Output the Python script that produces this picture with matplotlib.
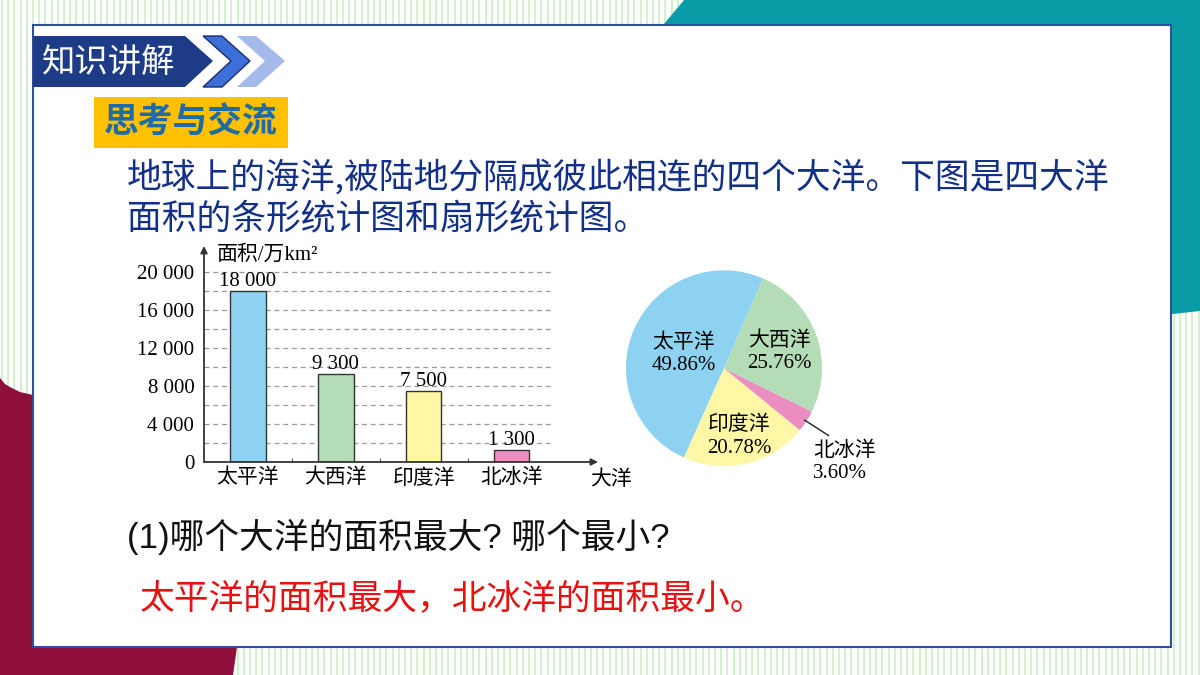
import numpy as np
import matplotlib.pyplot as plt
from matplotlib.patches import Polygon, Rectangle

plt.rcParams['font.family'] = ['Noto Sans CJK SC', 'DejaVu Sans']

# 条形统计图 数据
oceans = ['太平洋', '大西洋', '印度洋', '北冰洋']
areas = [18000, 9300, 7500, 1300]
bar_colors = ['#8DD3F1', '#B4DCB7', '#FFF7A6', '#EC8DC2']
yticks = [0, 4000, 8000, 12000, 16000, 20000]

# 扇形统计图 数据 (逆时针顺序)
pie_names = ['太平洋', '印度洋', '北冰洋', '大西洋']
pie_pcts = [49.86, 20.78, 3.60, 25.76]
pie_colors = ['#8DD3F1', '#FFF7A6', '#EC8DC2', '#B4DCB7']

serif = ['Liberation Serif', 'Noto Sans CJK SC']
sans = ['Liberation Sans', 'Noto Sans CJK SC']


def fmt(v):
    return '{:,}'.format(v).replace(',', ' ')


fig = plt.figure(figsize=(12, 6.75), dpi=100)

# 背景 (像素坐标)
bg = fig.add_axes([0, 0, 1, 1])
bg.set_xlim(0, 1200)
bg.set_ylim(675, 0)
bg.axis('off')

bg.vlines(np.arange(2, 1200, 6.2), 0, 675, colors='#C9EFC2', lw=1.2, zorder=0)
bg.add_patch(Polygon([(684, 0), (1200, 0), (1200, 311), (1100, 322), (634, 60)],
                     closed=True, fc='#0A9CA6', ec='none', zorder=1))
bg.add_patch(Polygon([(0, 378), (5, 384), (10, 387), (20, 392), (33, 395), (60, 398),
                      (250, 560), (237, 647), (233, 675), (0, 675)],
                     closed=True, fc='#8E0F3A', ec='none', zorder=1))
bg.add_patch(Rectangle((33, 25), 1138, 622, fc='white', ec='#2F4F9F', lw=1.5, zorder=2))

# 标题栏
bg.add_patch(Polygon([(33, 36), (185, 36), (213, 61), (185, 87), (33, 87)],
                     closed=True, fc='#1D3B87', ec='none', zorder=3))
bg.add_patch(Polygon([(203, 36), (222, 36), (250, 61), (222, 87), (203, 87), (231, 61)],
                     closed=True, fc='#3D6FD8', ec='#1B2F6E', lw=1, zorder=3))
bg.add_patch(Polygon([(237, 36), (256, 36), (285, 61), (256, 87), (237, 87), (265, 61)],
                     closed=True, fc='#A3BAEA', ec='none', zorder=3))
bg.text(42, 62, '知识讲解', color='white', fontsize=24, va='center', zorder=4)

bg.add_patch(Rectangle((94, 97), 194, 51, fc='#FFC000', ec='none', zorder=3))
bg.text(191, 122, '思考与交流', color='#1F6BA6', fontsize=25, fontweight='bold',
        ha='center', va='center', zorder=4)

bg.text(127, 178, '地球上的海洋,被陆地分隔成彼此相连的四个大洋。下图是四大洋',
        color='#12308A', fontsize=25, va='center', zorder=4)
bg.text(127, 220, '面积的条形统计图和扇形统计图。',
        color='#12308A', fontsize=25, va='center', zorder=4)
bg.text(127, 537, '(1)哪个大洋的面积最大? 哪个最小?', family=sans,
        color='#111111', fontsize=25, va='center', zorder=4)
bg.text(140, 600, '太平洋的面积最大，北冰洋的面积最小。',
        color='#E8110F', fontsize=25, va='center', zorder=4)

# 条形统计图
ax = fig.add_axes([204 / 1200, 1 - 462 / 675, 394 / 1200, 216 / 675])
ax.patch.set_alpha(0)
x = np.arange(len(oceans))
ax.bar(x, areas, width=0.4, color=bar_colors, edgecolor='#333333', lw=1, zorder=3)
ax.set_xlim(-0.5, 3.98)
ax.set_ylim(0, 22700)
ax.hlines(np.arange(2000, 20001, 2000), -0.5, 3.45, colors='#9B9B9B',
          linestyles=(0, (4, 3)), lw=0.9, zorder=1)
for s in ax.spines.values():
    s.set_visible(False)
arrow = dict(arrowstyle='-|>', color='#333333', lw=1.3, shrinkA=0, shrinkB=0, mutation_scale=10)
ax.annotate('', xy=(0, 1), xytext=(0, 0), xycoords='axes fraction', arrowprops=arrow)
ax.annotate('', xy=(1, 0), xytext=(0, 0), xycoords='axes fraction', arrowprops=arrow)

ax.set_yticks(yticks, [fmt(v) for v in yticks], family=serif, fontsize=15)
ax.set_xticks(x, oceans, family=serif, fontsize=15)
ax.set_xticks([0.5, 1.5, 2.5], minor=True)
ax.tick_params(axis='both', which='major', length=0)
ax.tick_params(axis='y', pad=7)
ax.tick_params(axis='x', pad=5)
ax.tick_params(axis='x', which='minor', direction='in', length=3, color='#333333')

for i, v in enumerate(areas):
    ax.text(i, v, fmt(v), ha='center', va='bottom', family=serif, fontsize=15)
ax.text(0.033, 0.958, '面积/万km²', transform=ax.transAxes, family=serif, fontsize=15, va='center')
ax.text(1.033, -0.083, '大洋', transform=ax.transAxes, family=serif, fontsize=15,
        ha='center', va='center')

# 扇形统计图
pax = fig.add_axes([577 / 1200, 1 - 515 / 675, 343 / 1200, 274 / 675])
wedges, _ = pax.pie(pie_pcts, colors=pie_colors, startangle=66.4, counterclock=True,
                    wedgeprops=dict(linewidth=0))
pax.set_xlim(-1.5, 2.0)
pax.set_ylim(-1.5, 1.3)
pax.set_aspect('auto')

label_r = {'太平洋': 0.45, '印度洋': 0.68, '大西洋': 0.6}
for w, name, p in zip(wedges, pie_names, pie_pcts):
    mid = np.deg2rad((w.theta1 + w.theta2) / 2)
    txt = '%s\n%.2f%%' % (name, p)
    if name in label_r:
        r = label_r[name]
        pax.text(r * np.cos(mid), r * np.sin(mid) - 0.04, txt, ha='center', va='center',
                 family=serif, fontsize=15, linespacing=1.25)
    else:
        x0, y0 = 0.98 * np.cos(mid), 0.98 * np.sin(mid)
        x1, y1 = 1.27 * np.cos(mid), 1.27 * np.sin(mid)
        pax.plot([x0, x1], [y0, y1], color='#222222', lw=1)
        pax.text(x1 - 0.16, y1 - 0.06, txt, ha='left', va='top',
                 family=serif, fontsize=15, linespacing=1.25)

plt.savefig('out.png', dpi=100)
